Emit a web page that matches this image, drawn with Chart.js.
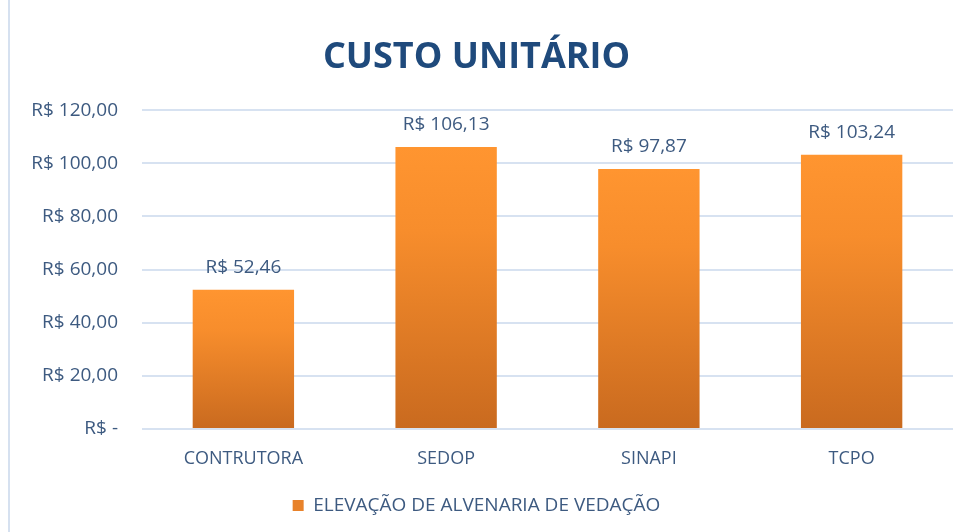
<!DOCTYPE html>
<html>
<head>
<meta charset="utf-8">
<script src="https://cdn.jsdelivr.net/npm/chart.js@4.4.1/dist/chart.umd.min.js"></script>
<style>
  html, body { margin: 0; padding: 0; background: #ffffff; }
  #wrap { position: relative; width: 968px; height: 532px; overflow: hidden; }
  #frame { position: absolute; left: 8px; top: -4px; width: 2000px; height: 2000px; border-left: 2px solid #D6E1F0; box-sizing: border-box; pointer-events: none; }
  canvas { position: absolute; left: 0; top: 0; }
</style>
</head>
<body>
<div id="wrap">
  <canvas id="c" width="968" height="532"></canvas>
  <div id="frame"></div>
</div>
<script>
const categories = ["CONTRUTORA", "SEDOP", "SINAPI", "TCPO"];
const seriesName = "ELEVAÇÃO DE ALVENARIA DE VEDAÇÃO";
const values = [52.46, 106.13, 97.87, 103.24];
const yTicks = [0, 20, 40, 60, 80, 100, 120];
const chartTitle = "CUSTO UNITÁRIO";

const FONT = "'Open Sans', sans-serif";
const TEXT = "#3D5A80";
const TOP_C = "#FF9530";
const BOT_C = "#C96A1F";

function brl(v) {
  if (v === 0) return "R$ -";
  return "R$ " + v.toFixed(2).replace(".", ",");
}

const barGradient = (ctx) => {
  const chart = ctx.chart;
  const ca = chart.chartArea;
  if (!ca || ctx.type !== 'data') return TOP_C;
  const ys = chart.scales.y;
  const top = ys.getPixelForValue(ctx.raw);
  const base = ys.getPixelForValue(0);
  const g = chart.ctx.createLinearGradient(0, top, 0, base);
  g.addColorStop(0, TOP_C);
  g.addColorStop(0.3, "#F78D2C");
  g.addColorStop(1, BOT_C);
  return g;
};

const valueLabels = {
  id: 'valueLabels',
  afterDatasetsDraw(chart) {
    const c = chart.ctx;
    const meta = chart.getDatasetMeta(0);
    c.save();
    c.font = "19px " + FONT;
    c.fillStyle = TEXT;
    c.textAlign = 'center';
    c.textBaseline = 'middle';
    meta.data.forEach((el, i) => {
      c.fillText(brl(chart.data.datasets[0].data[i]), el.x, el.y - 22);
    });
    c.restore();
  }
};

new Chart(document.getElementById('c'), {
  type: 'bar',
  data: {
    labels: categories,
    datasets: [{
      label: seriesName,
      data: values,
      backgroundColor: barGradient,
      borderWidth: 0,
      barPercentage: 0.5,
      categoryPercentage: 1.0
    }]
  },
  options: {
    responsive: false,
    animation: false,
    devicePixelRatio: 1,
    layout: { padding: { left: 0, right: 15, top: 0, bottom: 7 } },
    plugins: {
      title: {
        display: true,
        text: chartTitle,
        color: "#1F4A7C",
        font: { family: FONT, size: 36, weight: 'bold' },
        padding: { top: 36, bottom: 31 }
      },
      legend: {
        position: 'bottom',
        labels: {
          color: TEXT,
          font: { family: FONT, size: 19 },
          boxWidth: 11,
          boxHeight: 11,
          padding: 10,
          generateLabels(chart) {
            return [{
              text: seriesName,
              fillStyle: "#E8822A",
              strokeStyle: "#E8822A",
              lineWidth: 0,
              hidden: false,
              datasetIndex: 0,
              fontColor: TEXT
            }];
          }
        }
      },
      tooltip: { enabled: false }
    },
    scales: {
      x: {
        afterFit(scale) { scale.height = 57; },
        grid: { display: false, drawTicks: false },
        border: { display: false },
        ticks: { color: TEXT, font: { family: FONT, size: 18 }, padding: 19 }
      },
      y: {
        min: 0,
        max: 120,
        afterFit(scale) { scale.width = 142; },
        afterBuildTicks(scale) { scale.ticks = yTicks.map(v => ({ value: v })); },
        grid: { color: "#D7E2F1", lineWidth: 2, drawTicks: false },
        border: { display: false },
        ticks: {
          color: TEXT,
          font: { family: FONT, size: 19 },
          padding: 24,
          callback: (v) => brl(v)
        }
      }
    }
  },
  plugins: [valueLabels]
});
</script>
</body>
</html>
